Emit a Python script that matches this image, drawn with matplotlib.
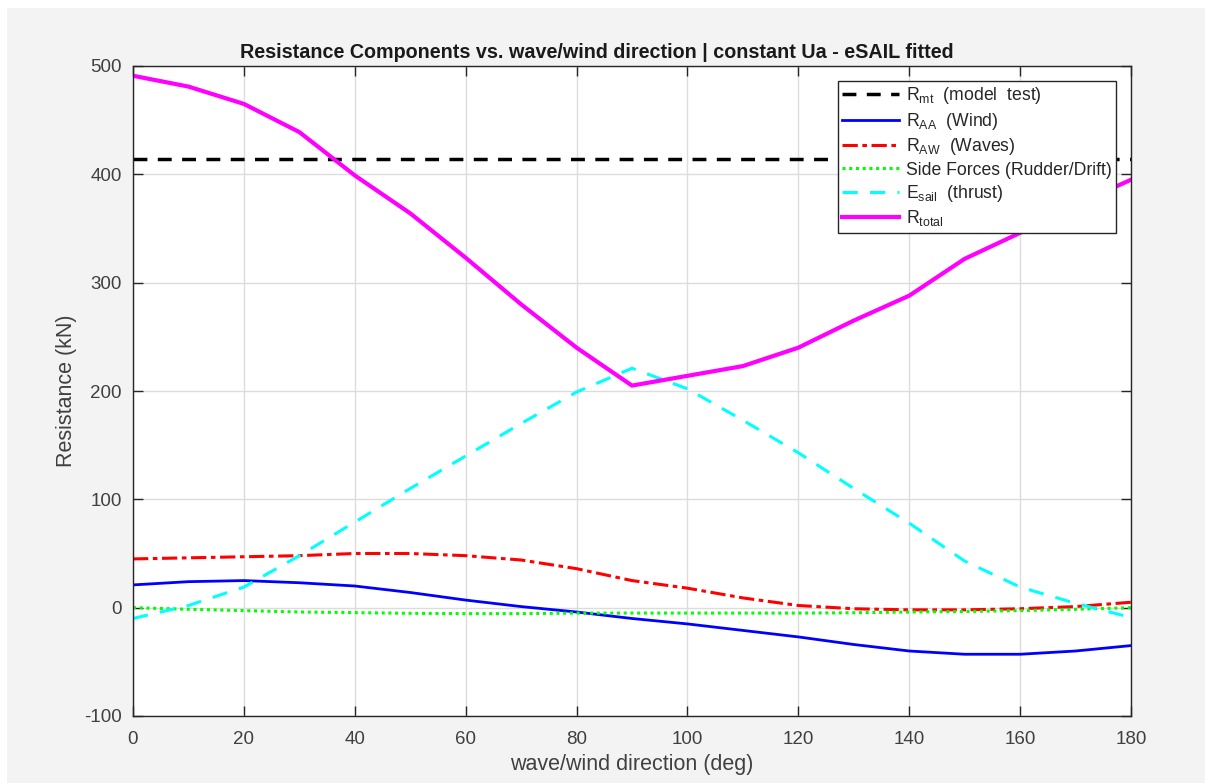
import numpy as np
import matplotlib
matplotlib.use('Agg')
import matplotlib.pyplot as plt
from matplotlib.patches import Rectangle

plt.rcParams['font.family'] = ['Liberation Sans', 'DejaVu Sans']
plt.rcParams['mathtext.fontset'] = 'custom'
plt.rcParams['mathtext.rm'] = 'Liberation Sans'
plt.rcParams['mathtext.it'] = 'Liberation Sans'
plt.rcParams['axes.unicode_minus'] = False

# wave/wind direction (deg)
angle = [0, 10, 20, 30, 40, 50, 60, 70, 80, 90, 100, 110, 120, 130, 140, 150, 160, 170, 180]

R_mt = 414
R_AA = [21, 24, 25, 23, 20, 14, 7, 1, -4, -10, -15, -21, -27, -34, -40, -43, -43, -40, -35]
R_AW = [45, 46, 47, 48, 50, 50, 48, 44, 36, 25, 18, 9, 2, -1, -2, -2, -1, 1, 5]
side = [0, -1.5, -2.7, -4, -4.6, -5.2, -5.5, -5.5, -5, -5, -5, -5, -5, -4.7, -4, -3.5, -2.7, -1.5, 0]
E_sail = [-10, 2, 19, 48, 79, 110, 140, 170, 199, 221, 202, 173, 143, 110, 78, 43, 19, 4, -9]
R_total = [491, 481, 465, 439, 399, 364, 323, 280, 240, 205, 214, 223, 240, 265, 288, 322, 346, 372, 395]

txt = '#404040'

fig = plt.figure(figsize=(12.05, 7.83), dpi=100, facecolor='white')
fig.patches.append(Rectangle((7 / 1205, 0), 1 - 7 / 1205, 1 - 8 / 783,
                             transform=fig.transFigure, facecolor='#f3f3f3',
                             edgecolor='none', zorder=-10))
ax = fig.add_axes([133 / 1205, 67 / 783, (1131 - 133) / 1205, (716 - 66) / 783])

ax.axhline(R_mt, color='black', ls=(0, (4, 3)), lw=2.5, label=r'R$_{\mathrm{mt}}$  (model  test)')
ax.plot(angle, R_AA, color='#0000ff', lw=2, label=r'R$_{\mathrm{AA}}$  (Wind)')
ax.plot(angle, R_AW, color='#ff0000', lw=2.2, ls=(0, (5, 1.5, 1.5, 1.5)), label=r'R$_{\mathrm{AW}}$  (Waves)')
ax.plot(angle, side, color='#00ff00', lw=2.2, ls=(0, (1, 1.2)), label='Side Forces (Rudder/Drift)')
ax.plot(angle, E_sail, color='#00ffff', lw=2.2, ls=(0, (5, 4)), label=r'E$_{\mathrm{sail}}$  (thrust)')
ax.plot(angle, R_total, color='#ff00ff', lw=3, label=r'R$_{\mathrm{total}}$')

ax.set_xlim(0, 180)
ax.set_ylim(-100, 500)
ax.set_xticks(range(0, 181, 20))
ax.set_yticks(range(-100, 501, 100))
ax.grid(True, color='#dcdcdc', lw=1)
ax.tick_params(direction='in', top=True, right=True, length=7, width=1,
               colors='#262626', labelsize=13.5, labelcolor=txt)
ax.tick_params(axis='x', pad=11)
ax.tick_params(axis='y', pad=8)
for s in ax.spines.values():
    s.set_color('#262626')
    s.set_linewidth(1)

ax.set_xlabel('wave/wind direction (deg)', fontsize=15.5, color=txt, labelpad=4)
ax.set_ylabel('Resistance (kN)', fontsize=15.5, color=txt, labelpad=5)
fig.text(597 / 1205, 1 - 52 / 783,
         'Resistance Components vs. wave/wind direction | constant Ua - eSAIL fitted',
         fontsize=14.2, fontweight='bold', color='#1a1a1a', ha='center', va='center')

leg = ax.legend(loc='upper right', fontsize=12.7, frameon=True, fancybox=False,
                edgecolor='#262626', framealpha=1, handlelength=3.2, handletextpad=0.4,
                labelspacing=0.25, borderpad=0.25, borderaxespad=0.85)
leg.get_frame().set_linewidth(1)
for t in leg.get_texts():
    t.set_color('#262626')

fig.savefig('out.png', dpi=100, facecolor=fig.get_facecolor())
